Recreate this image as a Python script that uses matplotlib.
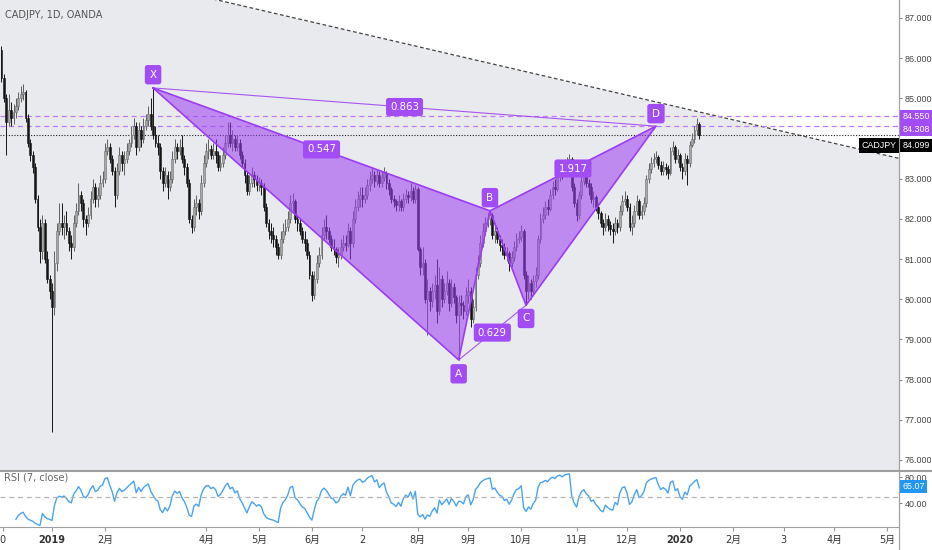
import numpy as np
import pandas as pd
import matplotlib
matplotlib.use("Agg")
import matplotlib.pyplot as plt
import matplotlib.transforms as mtransforms
from matplotlib.lines import Line2D

plt.rcParams['font.family'] = ['DejaVu Sans', 'Noto Sans CJK SC']
NARROW = ['Liberation Sans', 'DejaVu Sans']
AXFS = 6.4

# daily CADJPY bars, Dec 2018 - Jan 2020 (open = previous close)
first_open = 86.2
closes = [
    85.5, 85.0, 84.4, 84.7, 84.5, 84.65, 84.8, 85.0, 85.1, 85.15,
    84.5, 83.9, 83.6, 83.3, 82.5, 81.8, 81.2, 81.9, 81.0, 80.5,
    80.2, 79.8, 80.9, 81.7, 81.9, 81.8, 81.9, 81.7, 81.4, 81.3,
    81.9, 82.2, 82.6, 82.4, 82.0, 81.9, 82.1, 82.5, 82.8, 82.5,
    82.6, 82.9, 83.0, 83.7, 83.8, 83.5, 83.2, 82.6, 83.2, 83.6,
    83.4, 83.5, 83.7, 83.9, 84.1, 84.3, 83.8, 84.2, 84.0, 84.3,
    84.45, 84.6, 84.3, 84.1, 83.9, 83.8, 83.2, 82.9, 83.1, 82.8,
    83.0, 83.5, 83.8, 83.7, 83.8, 83.5, 83.3, 82.9, 82.0, 81.8,
    82.3, 82.4, 82.2, 82.9, 83.4, 83.7, 83.75, 83.6, 83.7, 83.6,
    83.3, 83.4, 83.6, 83.9, 84.1, 83.9, 84.0, 83.8, 83.9, 83.6,
    83.4, 83.1, 82.7, 82.9, 83.1, 83.0, 82.85, 82.9, 82.8, 82.3,
    81.9, 81.7, 81.6, 81.5, 81.3, 81.1, 81.5, 81.7, 81.8, 82.0,
    82.4, 82.45, 82.0, 81.9, 81.7, 81.5, 81.4, 81.1, 80.6, 80.1,
    80.5, 80.9, 81.1, 81.6, 81.8, 81.7, 81.5, 81.3, 81.25, 81.05,
    81.1, 81.3, 81.4, 81.35, 81.7, 81.4, 82.0, 82.3, 82.5, 82.6,
    82.5, 82.6, 82.85, 83.0, 83.1, 82.95, 83.1, 82.9, 83.05, 83.15,
    82.9, 82.75, 82.5, 82.45, 82.35, 82.45, 82.3, 82.5, 82.6, 82.55,
    82.7, 82.5, 82.75, 81.25, 80.8, 80.9, 80.0, 80.2, 79.95, 80.2,
    80.35, 79.7, 80.5, 80.0, 80.2, 80.4, 79.9, 80.3, 80.05, 79.6,
    79.9, 79.85, 79.7, 80.1, 80.2, 79.5, 79.8, 80.6, 80.9, 81.4,
    81.7, 81.9, 82.0, 82.1, 81.6, 81.7, 81.5, 81.35, 81.3, 81.1,
    81.15, 80.9, 81.05, 81.3, 81.5, 81.55, 81.7, 80.6, 80.2, 80.4,
    80.2, 80.45, 80.6, 81.5, 82.0, 82.1, 82.3, 82.25, 82.6, 82.8,
    82.75, 83.05, 83.2, 83.15, 83.35, 83.45, 83.5, 82.8, 82.4, 82.1,
    82.6, 82.95, 83.1, 82.9, 82.8, 82.5, 82.55, 82.3, 82.15, 81.9,
    81.8, 82.0, 81.85, 81.75, 81.7, 81.9, 81.8, 82.2, 82.45, 82.5,
    82.3, 81.8, 81.9, 82.2, 82.45, 82.1, 82.2, 82.4, 83.0, 83.25,
    83.4, 83.5, 83.55, 83.35, 83.2, 83.3, 83.25, 83.15, 83.7, 83.8,
    83.5, 83.6, 83.3, 83.2, 83.5, 83.4, 83.85, 84.0, 84.2, 84.35,
    84.099,
]
highs = [
    86.3, 85.6, 85.1, 85.1, 84.9, 84.85, 85.0, 85.15, 85.3, 85.35,
    85.2, 84.6, 84.0, 83.7, 83.4, 82.6, 82.0, 82.1, 82.0, 81.2,
    80.6, 80.4, 81.2, 81.9, 82.4, 82.4, 82.1, 82.2, 81.8, 81.6,
    82.1, 82.4, 82.9, 82.7, 82.5, 82.1, 82.3, 82.7, 83.0, 82.9,
    82.8, 83.1, 83.2, 83.9, 84.0, 83.9, 83.6, 83.3, 83.4, 83.8,
    83.7, 83.7, 83.9, 84.0, 84.3, 84.5, 84.4, 84.4, 84.3, 84.5,
    84.6, 84.8, 85.0, 85.26, 84.3, 84.1, 83.9, 83.3, 83.3, 83.2,
    83.2, 83.7, 84.0, 83.9, 84.0, 84.1, 83.6, 83.4, 83.0, 82.1,
    82.5, 82.6, 82.5, 83.1, 83.6, 83.9, 84.0, 83.85, 83.9, 84.0,
    83.7, 83.6, 83.8, 84.1, 84.4, 84.4, 84.2, 84.1, 84.1, 84.0,
    83.7, 83.5, 83.2, 83.1, 83.3, 83.2, 83.1, 83.05, 83.0, 82.9,
    82.4, 82.0, 81.9, 81.8, 81.6, 81.4, 81.7, 81.9, 82.0, 82.2,
    82.6, 82.65, 82.5, 82.1, 82.0, 81.8, 81.7, 81.5, 81.2, 80.7,
    80.7, 81.1, 81.3, 81.8, 82.0, 82.1, 81.8, 81.6, 81.5, 81.3,
    81.3, 81.5, 81.6, 81.6, 81.9, 81.8, 82.2, 82.5, 82.7, 82.8,
    82.8, 82.8, 83.0, 83.2, 83.3, 83.2, 83.25, 83.2, 83.2, 83.3,
    83.2, 83.0, 82.8, 82.6, 82.5, 82.6, 82.5, 82.65, 82.75, 82.7,
    82.9, 82.8, 82.85, 82.8, 81.3, 81.3, 81.0, 80.5, 80.3, 80.4,
    80.6, 81.0, 80.8, 80.6, 80.4, 80.7, 80.5, 80.5, 80.4, 80.1,
    80.1, 80.1, 79.95, 80.3, 80.5, 80.3, 80.0, 80.8, 81.1, 81.6,
    81.9, 82.05, 82.15, 82.2, 82.15, 81.9, 81.8, 81.6, 81.5, 81.4,
    81.3, 81.2, 81.2, 81.45, 81.65, 81.7, 81.85, 81.75, 80.7, 80.6,
    80.5, 80.6, 80.8, 81.6, 82.15, 82.3, 82.45, 82.5, 82.75, 82.95,
    83.0, 83.2, 83.35, 83.35, 83.5, 83.55, 83.62, 83.55, 82.9, 82.5,
    82.7, 83.1, 83.25, 83.2, 83.0, 82.9, 82.7, 82.6, 82.4, 82.2,
    82.0, 82.15, 82.1, 81.95, 81.9, 82.05, 82.0, 82.35, 82.6, 82.7,
    82.6, 82.4, 82.1, 82.35, 82.6, 82.5, 82.35, 82.55, 83.1, 83.4,
    83.55, 83.65, 83.7, 83.6, 83.45, 83.45, 83.4, 83.35, 83.8, 83.95,
    83.85, 83.75, 83.65, 83.4, 83.65, 83.6, 83.95, 84.15, 84.3, 84.5,
    84.4,
]
lows = [
    85.4, 84.9, 83.6, 84.3, 84.3, 84.35, 84.5, 84.7, 84.9, 84.95,
    84.4, 83.8, 83.45, 83.15, 82.4, 81.7, 80.9, 81.0, 80.9, 80.4,
    80.0, 76.7, 79.6, 80.7, 81.6, 81.6, 81.5, 81.6, 81.2, 81.0,
    81.2, 81.8, 82.1, 82.2, 81.8, 81.6, 81.8, 82.0, 82.4, 82.3,
    82.3, 82.5, 82.8, 82.9, 83.6, 83.4, 83.1, 82.3, 82.5, 83.1,
    83.2, 83.1, 83.4, 83.6, 83.8, 84.0, 83.6, 83.7, 83.8, 83.9,
    84.2, 84.3, 84.2, 84.0, 83.8, 83.6, 83.0, 82.7, 82.8, 82.5,
    82.7, 82.9, 83.4, 83.5, 83.6, 83.4, 83.1, 82.8, 81.9, 81.65,
    81.7, 82.1, 82.0, 82.1, 82.8, 83.3, 83.5, 83.5, 83.5, 83.4,
    83.2, 83.2, 83.3, 83.5, 83.8, 83.8, 83.7, 83.7, 83.7, 83.5,
    83.3, 82.9, 82.6, 82.6, 82.8, 82.8, 82.7, 82.7, 82.6, 82.2,
    81.8, 81.5, 81.4, 81.3, 81.1, 81.0, 81.0, 81.4, 81.6, 81.7,
    81.9, 82.2, 81.9, 81.7, 81.6, 81.4, 81.2, 81.0, 80.5, 79.95,
    80.0, 80.4, 80.8, 81.0, 81.5, 81.5, 81.4, 81.2, 81.1, 80.9,
    80.8, 81.0, 81.2, 81.2, 81.3, 81.0, 81.3, 81.9, 82.2, 82.3,
    82.3, 82.4, 82.5, 82.7, 82.9, 82.8, 82.85, 82.8, 82.8, 82.95,
    82.75, 82.6, 82.4, 82.3, 82.2, 82.2, 82.2, 82.2, 82.4, 82.4,
    82.45, 82.4, 82.4, 81.2, 80.6, 80.6, 79.9, 79.1, 79.7, 79.8,
    80.0, 79.4, 79.6, 79.8, 79.9, 80.1, 79.7, 79.8, 79.9, 79.4,
    78.49, 79.6, 79.5, 79.6, 79.9, 79.3, 79.4, 79.7, 80.5, 80.8,
    81.3, 81.6, 81.8, 81.85, 81.5, 81.4, 81.4, 81.2, 81.1, 81.0,
    80.95, 80.7, 80.8, 80.95, 81.2, 81.4, 81.45, 80.5, 79.85, 80.0,
    80.0, 80.1, 80.3, 80.5, 81.4, 81.9, 82.0, 82.1, 82.2, 82.5,
    82.6, 82.7, 82.95, 83.0, 83.1, 83.2, 83.3, 82.7, 82.3, 81.95,
    82.0, 82.5, 82.85, 82.8, 82.6, 82.4, 82.3, 82.2, 82.0, 81.8,
    81.6, 81.7, 81.7, 81.6, 81.4, 81.6, 81.65, 81.7, 82.1, 82.35,
    82.2, 81.7, 81.6, 81.8, 82.1, 82.0, 82.0, 82.1, 82.3, 82.9,
    83.15, 83.3, 83.4, 83.25, 83.1, 83.1, 83.1, 83.0, 83.1, 83.6,
    83.4, 83.4, 83.2, 83.0, 83.1, 82.85, 83.3, 83.8, 83.9, 84.1,
    84.0,
]

# XABCD pattern drawn on the chart
pattern_names = ['X', 'A', 'B', 'C', 'D']
pattern_bars = [63, 190, 203, 218, 272]
pattern_prices = [85.26, 78.49, 82.2, 79.85, 84.308]
ratio_pairs = [('X', 'B'), ('A', 'C'), ('B', 'D'), ('X', 'D')]
ratio_texts = ['0.547', '0.629', '1.917', '0.863']

trend_bars = [257, 372]
trend_prices = [85.12, 83.52]

level_prices = [84.55, 84.308]
last_price = 84.099
rsi_last = 65.07

price_ticks = [76, 77, 78, 79, 80, 81, 82, 83, 85, 86, 87]
rsi_ticks = [40, 80]
time_tick_bars = [0.6, 21, 43, 85, 107, 129, 150, 173, 194, 216, 239, 260,
                  282, 304, 325, 346, 368]
time_tick_labels = ['0', '2019', '2月', '4月', '5月', '6月', '2', '8月', '9月',
                    '10月', '11月', '12月', '2020', '2月', '3', '4月', '5月']

W, H = 932, 550
PURPLE = '#9b3cf2'
BOX = '#a24cf5'
BG = '#e9eaed'


def fx(px):
    return px / W


def fy(py):
    return 1 - py / H


fig = plt.figure(figsize=(W / 100, H / 100), dpi=100, facecolor='white')
ax = fig.add_axes([0, fy(470), fx(899), 470 / H])
ax2 = fig.add_axes([0, fy(527), fx(899), 55 / H])

xmin, xmax = -0.62, 373.0
ax.set_xlim(xmin, xmax)
ax.set_ylim(75.75, 87.448)
ax.set_facecolor(BG)

# lighter area above the falling trendline
slope = (trend_prices[1] - trend_prices[0]) / (trend_bars[1] - trend_bars[0])
tx = np.array([xmin, xmax])
ty = trend_prices[0] + slope * (tx - trend_bars[0])
ax.fill_between(tx, ty, 90, color='white', lw=0, zorder=0)
ax.plot(tx, ty, ls=(0, (3, 2)), color='#444444', lw=0.9, zorder=1)

# candles
c = np.array(closes)
o = np.array([first_open] + closes[:-1])
hi = np.maximum(np.array(highs), np.maximum(o, c))
lo = np.minimum(np.array(lows), np.minimum(o, c))
idx = np.arange(len(c))
up = c >= o
ax.vlines(idx[up], lo[up], hi[up], colors='#5e5e5e', lw=0.7, zorder=3)
ax.vlines(idx[~up], lo[~up], hi[~up], colors='#151515', lw=0.7, zorder=3)
body_b = np.minimum(o, c)
body_h = np.maximum(np.abs(c - o), 0.03)
ax.bar(idx[up], body_h[up], bottom=body_b[up], width=0.75, color='#a9a9a9',
       edgecolor='#6a6a6a', linewidth=0.4, zorder=4)
ax.bar(idx[~up], body_h[~up], bottom=body_b[~up], width=0.75, color='#151515',
       edgecolor='#151515', linewidth=0.4, zorder=4)

# horizontal levels
for lv in level_prices:
    ax.axhline(lv, color='#bf7bf7', lw=0.9, ls=(0, (4, 3)), zorder=2)
ax.axhline(last_price, color='#222222', lw=0.8, ls=(0, (1, 1.5)), zorder=2)

# harmonic pattern
pts = {n: (b, p) for n, b, p in zip(pattern_names, pattern_bars, pattern_prices)}
for tri in (['X', 'A', 'B'], ['B', 'C', 'D']):
    xs = [pts[k][0] for k in tri]
    ys = [pts[k][1] for k in tri]
    ax.fill(xs, ys, color=PURPLE, alpha=0.55, lw=0, zorder=5)
    ax.plot(xs + xs[:1], ys + ys[:1], color=PURPLE, lw=1.2, zorder=6)
for a, b in [('X', 'D'), ('A', 'C')]:
    ax.plot([pts[a][0], pts[b][0]], [pts[a][1], pts[b][1]],
            color=PURPLE, lw=0.8, alpha=0.85, zorder=6)

for (a, b), t in zip(ratio_pairs, ratio_texts):
    mx = (pts[a][0] + pts[b][0]) / 2
    my = (pts[a][1] + pts[b][1]) / 2
    ax.text(mx, my, t, ha='center', va='center', fontsize=7.3, color='white',
            zorder=8, bbox=dict(boxstyle='round,pad=0.4,rounding_size=0.25',
                                fc=BOX, ec='none'))

label_dy = {'X': 9.5, 'A': -10, 'B': 9.5, 'C': -9.5, 'D': 9}
for n in pattern_names:
    ax.annotate(n, pts[n], xytext=(0, label_dy[n]), textcoords='offset points',
                ha='center', va='center', fontsize=7.5, color='white', zorder=8,
                bbox=dict(boxstyle='round,pad=0.45,rounding_size=0.25',
                          fc=BOX, ec='none'))

# price scale
ax.yaxis.tick_right()
ax.set_yticks(price_ticks)
ax.set_yticklabels([f'{v:.3f}' for v in price_ticks], family=NARROW)
ax.tick_params(axis='y', length=2.5, color='#888888', labelsize=AXFS,
               labelcolor='#444444', pad=1.5)
ax.set_xticks([])
for s in ['top', 'left', 'bottom']:
    ax.spines[s].set_visible(False)
ax.spines['right'].set_color('#a0a0a0')

trans = mtransforms.blended_transform_factory(ax.transAxes, ax.transData)
axis_labels = [(level_prices[0], f'{level_prices[0]:.3f}', 0, BOX),
               (level_prices[1], f'{level_prices[1]:.3f}', -2.2, BOX),
               (last_price, f'{last_price:.3f}', -8, '#000000')]
for val, txt, dy, col in axis_labels:
    ax.annotate(txt, (1.0, val), xycoords=trans, xytext=(2.6, dy),
                textcoords='offset points', ha='left', va='center',
                fontsize=AXFS, family=NARROW, color='white',
                annotation_clip=False, zorder=10,
                bbox=dict(boxstyle='square,pad=0.25', fc=col, ec='none'))
ax.annotate('CADJPY', (1.0, last_price), xycoords=trans, xytext=(-2, -8),
            textcoords='offset points', ha='right', va='center', fontsize=AXFS,
            family=NARROW, color='white', annotation_clip=False, zorder=10,
            bbox=dict(boxstyle='square,pad=0.3', fc='#000000', ec='none'))

fig.text(fx(5), fy(15), 'CADJPY, 1D, OANDA', fontsize=7, color='#555555',
         va='center')

# RSI(7) pane
s = pd.Series(np.r_[first_open, closes])
d = s.diff()
gain = d.clip(lower=0).ewm(alpha=1 / 7, adjust=False, min_periods=7).mean()
loss = (-d).clip(lower=0).ewm(alpha=1 / 7, adjust=False, min_periods=7).mean()
rsi = (100 - 100 / (1 + gain / loss)).iloc[1:].values

ax2.set_xlim(xmin, xmax)
ax2.set_ylim(3.1, 87.7)
ax2.plot(idx, rsi, color='#4aa3f2', lw=1.0)
ax2.axhline(50, color='#b5b5b5', lw=0.9, ls=(0, (4, 3)))
ax2.yaxis.tick_right()
ax2.set_yticks(rsi_ticks)
ax2.set_yticklabels([f'{v:.2f}' for v in rsi_ticks], family=NARROW)
ax2.tick_params(axis='y', length=2.5, color='#888888', labelsize=AXFS,
                labelcolor='#444444', pad=1.5)
ax2.set_xticks(time_tick_bars)
ax2.set_xticklabels(time_tick_labels)
ax2.tick_params(axis='x', length=3, color='#999999', labelsize=7,
                labelcolor='#333333', pad=2.5)
for lab in ax2.get_xticklabels():
    if lab.get_text() in ('2019', '2020'):
        lab.set_fontweight('bold')
for sp in ['top', 'left']:
    ax2.spines[sp].set_visible(False)
ax2.spines['right'].set_color('#a0a0a0')
ax2.spines['bottom'].set_color('#a0a0a0')
trans2 = mtransforms.blended_transform_factory(ax2.transAxes, ax2.transData)
ax2.text(0.005, 80, 'RSI (7, close)', transform=trans2, fontsize=7,
         color='#666666', va='center')

ax2.annotate(f'{rsi_last:.2f}', (1.0, rsi_last), xycoords=trans2,
             xytext=(2.6, 0), textcoords='offset points', ha='left',
             va='center', fontsize=AXFS, family=NARROW, color='white',
             annotation_clip=False,
             bbox=dict(boxstyle='square,pad=0.25', fc='#2196f3', ec='none'))

# pane separator and price-scale border
fig.add_artist(Line2D([0, 1], [fy(471), fy(471)], color='#9e9e9e', lw=1.5))
fig.add_artist(Line2D([fx(899), fx(899)], [0, 1], color='#a0a0a0', lw=0.8))

fig.savefig('out.png', dpi=100, facecolor='white')
